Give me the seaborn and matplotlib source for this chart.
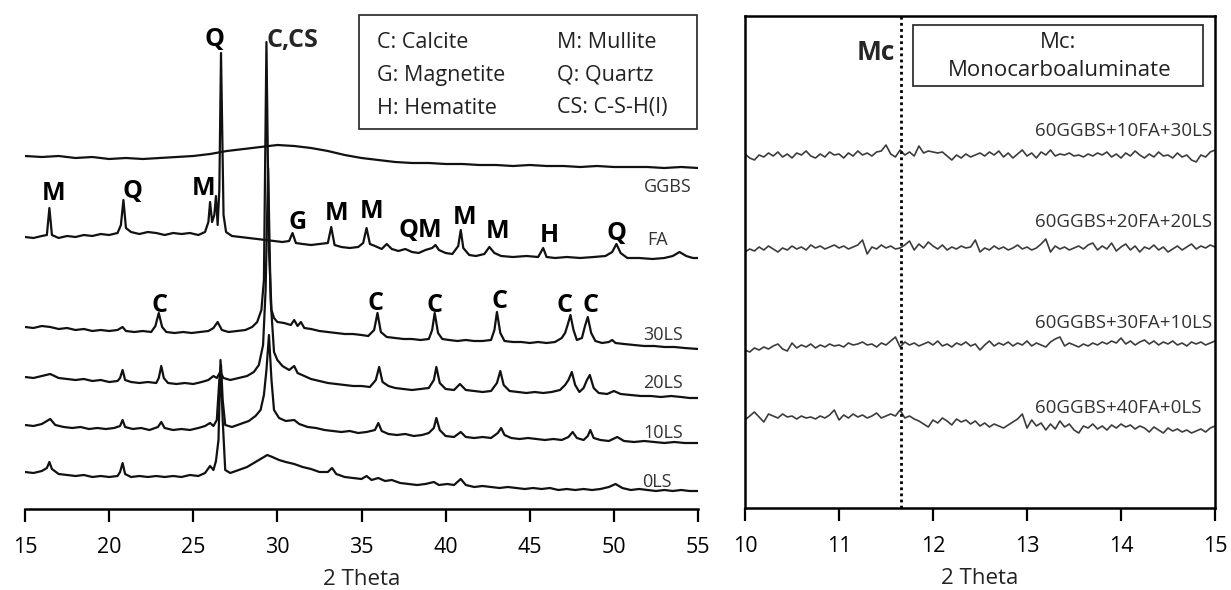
import numpy as np
import pandas as pd
import matplotlib
matplotlib.use("Agg")
import matplotlib.pyplot as plt
from matplotlib.patches import Rectangle
import seaborn as sns

# ---------------- data (intensity, arbitrary units, stacked) ----------------
ggbs_tt = list(range(15, 56))
ggbs_i = [353, 352, 353, 351, 352, 350, 351, 350, 351, 352, 353, 355, 358, 360, 362, 364, 363, 361, 358, 354,
          351, 349, 347, 346, 346, 345, 345, 344, 344, 343, 344, 343, 343, 342, 343, 342, 342, 342, 341, 342, 341]

fa_tt = [15.0, 15.5, 16.0, 16.3, 16.45, 16.6, 17.0, 17.5, 18.0, 18.5,
         19.0, 19.5, 20.0, 20.5, 20.7, 20.85, 21.0, 21.3, 21.8, 22.3,
         22.8, 23.3, 23.8, 24.3, 24.8, 25.3, 25.7, 25.9, 26.0, 26.12,
         26.25, 26.35, 26.45, 26.55, 26.65, 26.8, 26.95, 27.3, 27.8, 28.3,
         28.8, 29.3, 29.8, 30.3, 30.7, 30.9, 31.1, 31.5, 32.0, 32.5,
         33.0, 33.2, 33.4, 33.8, 34.3, 34.8, 35.1, 35.3, 35.5, 35.8,
         36.2, 36.5, 36.8, 37.2, 37.6, 38.0, 38.4, 38.8, 39.2, 39.4,
         39.6, 40.0, 40.4, 40.75, 40.9, 41.05, 41.4, 41.8, 42.3, 42.6,
         42.9, 43.3, 44.0, 44.8, 45.5, 45.8, 46.0, 46.5, 47.2, 48.0,
         48.8, 49.5, 49.9, 50.15, 50.4, 50.8, 51.5, 52.3, 53.0, 53.5,
         53.9, 54.3, 54.7, 55.0]
fa_i = [272, 271, 273, 274, 301, 274, 271, 273, 272, 274,
        273, 275, 274, 276, 284, 309, 281, 277, 275, 277,
        276, 274, 276, 275, 276, 274, 277, 287, 307, 287,
        294, 313, 284, 319, 456, 294, 277, 273, 272, 271,
        270, 269, 268, 267, 268, 276, 266, 265, 264, 265,
        266, 282, 264, 262, 261, 262, 266, 281, 265, 263,
        260, 265, 260, 258, 260, 257, 256, 259, 261, 264,
        259, 256, 255, 263, 279, 261, 254, 253, 255, 262,
        256, 253, 252, 253, 252, 261, 252, 251, 252, 251,
        252, 253, 257, 265, 256, 251, 251, 250, 251, 253,
        257, 253, 251, 251]

ls30_tt = [15.0, 15.5, 16.0, 16.5, 17.0, 17.5, 18.0, 18.5, 19.0, 19.5,
           20.0, 20.5, 20.8, 21.0, 21.5, 22.0, 22.5, 22.75, 22.95, 23.15,
           23.4, 23.9, 24.4, 24.9, 25.4, 25.9, 26.2, 26.45, 26.7, 27.1,
           27.6, 28.1, 28.5, 28.8, 29.05, 29.2, 29.35, 29.5, 29.65, 29.8,
           30.0, 30.4, 30.8, 31.0, 31.2, 31.4, 31.6, 32.0, 32.5, 33.0,
           33.5, 34.0, 34.5, 35.0, 35.4, 35.75, 35.95, 36.15, 36.5, 37.0,
           37.5, 38.0, 38.5, 39.0, 39.2, 39.35, 39.55, 39.8, 40.2, 40.7,
           41.2, 41.7, 42.2, 42.7, 42.9, 43.05, 43.25, 43.5, 44.0, 44.5,
           45.0, 45.5, 46.0, 46.5, 46.9, 47.1, 47.25, 47.42, 47.6, 47.8,
           48.1, 48.3, 48.45, 48.65, 48.9, 49.3, 49.7, 49.9, 50.1, 50.6,
           51.2, 51.8, 52.4, 53.0, 53.6, 54.2, 55.0]
ls30_i = [182, 181, 183, 182, 180, 181, 179, 180, 178, 179,
          178, 179, 182, 178, 177, 178, 177, 183, 196, 182,
          177, 176, 177, 176, 177, 178, 181, 187, 179, 177,
          178, 179, 182, 187, 199, 229, 467, 259, 199, 191,
          187, 186, 184, 189, 183, 187, 181, 180, 178, 177,
          176, 175, 175, 174, 173, 179, 196, 177, 172, 171,
          170, 170, 169, 170, 179, 196, 176, 170, 169, 168,
          169, 168, 168, 169, 179, 197, 176, 168, 167, 167,
          166, 167, 166, 167, 171, 176, 184, 194, 179, 169,
          171, 184, 192, 176, 168, 166, 167, 169, 166, 165,
          164, 163, 163, 162, 162, 161, 160]

ls20_tt = [15.0, 15.5, 16.0, 16.5, 17.0, 17.5, 18.0, 18.5, 19.0, 19.5,
           20.0, 20.5, 20.65, 20.8, 20.95, 21.3, 21.8, 22.3, 22.8, 22.95,
           23.1, 23.25, 23.5, 24.0, 24.5, 25.0, 25.5, 25.9, 26.2, 26.4,
           26.6, 26.8, 27.2, 27.7, 28.2, 28.6, 28.9, 29.15, 29.3, 29.45,
           29.6, 29.8, 30.0, 30.3, 30.7, 31.0, 31.2, 31.6, 32.0, 32.5,
           33.0, 33.5, 34.0, 34.5, 35.0, 35.5, 35.85, 36.05, 36.25, 36.6,
           37.0, 37.5, 38.0, 38.5, 39.0, 39.3, 39.45, 39.65, 40.0, 40.5,
           40.85, 41.2, 41.7, 42.2, 42.7, 43.05, 43.25, 43.45, 43.8, 44.3,
           44.8, 45.3, 45.8, 46.3, 46.8, 47.1, 47.3, 47.5, 47.7, 47.95,
           48.2, 48.4, 48.57, 48.8, 49.1, 49.6, 50.0, 50.4, 51.0, 51.6,
           52.2, 52.8, 53.4, 54.0, 54.5, 55.0]
ls20_i = [132, 131, 133, 135, 131, 130, 129, 130, 128, 129,
          127, 128, 131, 139, 129, 127, 126, 127, 126, 131,
          143, 131, 126, 125, 126, 125, 127, 129, 133, 131,
          137, 131, 129, 131, 133, 137, 144, 164, 219, 341,
          209, 157, 149, 143, 139, 143, 136, 133, 130, 128,
          126, 125, 124, 123, 123, 122, 129, 142, 127, 123,
          121, 120, 119, 120, 121, 129, 142, 126, 120, 119,
          125, 119, 118, 117, 118, 126, 138, 124, 118, 117,
          116, 117, 116, 117, 119, 124, 129, 137, 124, 117,
          121, 129, 134, 121, 116, 115, 118, 115, 114, 113,
          113, 112, 113, 112, 111, 111]

ls10_tt = [15.0, 15.5, 16.0, 16.5, 16.8, 17.3, 17.8, 18.3, 18.8, 19.3,
           19.8, 20.3, 20.65, 20.8, 20.95, 21.4, 21.9, 22.4, 22.9, 23.1,
           23.3, 23.8, 24.3, 24.8, 25.3, 25.7, 26.0, 26.2, 26.4, 26.55,
           26.65, 26.75, 26.9, 27.3, 27.8, 28.3, 28.7, 29.0, 29.2, 29.35,
           29.5, 29.65, 29.8, 30.1, 30.5, 31.0, 31.3, 31.8, 32.3, 32.8,
           33.3, 33.8, 34.3, 34.8, 35.3, 35.8, 36.0, 36.2, 36.6, 37.1,
           37.6, 38.1, 38.6, 39.0, 39.3, 39.45, 39.65, 40.0, 40.5, 40.9,
           41.2, 41.7, 42.2, 42.7, 43.1, 43.3, 43.5, 43.9, 44.4, 44.9,
           45.4, 45.9, 46.4, 46.9, 47.3, 47.55, 47.8, 48.2, 48.45, 48.6,
           48.8, 49.2, 49.7, 50.2, 50.6, 51.2, 51.8, 52.4, 53.0, 53.6,
           54.2, 55.0]
ls10_i = [84, 83, 85, 90, 84, 82, 81, 82, 80, 81,
          80, 81, 83, 89, 82, 80, 81, 79, 82, 87,
          81, 79, 80, 79, 81, 83, 86, 83, 89, 129,
          144, 109, 84, 82, 85, 88, 93, 99, 114, 139,
          174, 129, 99, 91, 88, 89, 85, 82, 81, 79,
          78, 77, 78, 76, 77, 79, 86, 78, 75, 74,
          75, 73, 74, 76, 81, 91, 79, 73, 72, 77,
          72, 71, 72, 71, 76, 81, 74, 71, 70, 71,
          70, 69, 70, 69, 72, 77, 71, 69, 73, 79,
          71, 69, 68, 72, 68, 67, 68, 67, 66, 67,
          66, 66]

ls0_tt = [15.0, 15.5, 16.0, 16.3, 16.45, 16.6, 17.0, 17.5, 18.0, 18.5,
          19.0, 19.5, 20.0, 20.5, 20.65, 20.8, 20.95, 21.3, 21.8, 22.3,
          22.8, 23.3, 23.8, 24.3, 24.8, 25.3, 25.7, 26.0, 26.2, 26.35,
          26.5, 26.62, 26.75, 26.9, 27.2, 27.7, 28.2, 28.7, 29.1, 29.4,
          29.7, 30.1, 30.5, 31.0, 31.5, 32.0, 32.5, 33.0, 33.25, 33.5,
          34.0, 34.5, 35.0, 35.3, 35.6, 36.0, 36.4, 36.8, 37.3, 37.8,
          38.3, 38.8, 39.3, 39.6, 40.1, 40.5, 40.9, 41.2, 41.7, 42.2,
          42.7, 43.2, 43.7, 44.2, 44.7, 45.2, 45.7, 46.2, 46.7, 47.2,
          47.7, 48.2, 48.7, 49.2, 49.7, 50.1, 50.5, 51.0, 51.5, 52.0,
          52.5, 53.0, 53.5, 54.0, 54.5, 55.0]
ls0_i = [37, 36, 38, 41, 47, 40, 35, 34, 33, 34,
         32, 33, 32, 33, 37, 46, 35, 32, 33, 32,
         33, 32, 33, 32, 34, 33, 36, 43, 39, 48,
         69, 149, 89, 39, 36, 39, 42, 47, 51, 54,
         52, 49, 47, 45, 42, 40, 37, 37, 41, 35,
         32, 31, 30, 33, 29, 31, 28, 29, 26, 25,
         24, 25, 27, 24, 25, 24, 30, 24, 22, 23,
         22, 21, 22, 21, 20, 21, 20, 21, 19, 20,
         19, 20, 19, 20, 22, 25, 21, 19, 20, 19,
         18, 19, 18, 19, 18, 18]

left_labels = ["GGBS", "FA", "30LS", "20LS", "10LS", "0LS"]

# right panel: 2 theta 10-15, readings every 0.05 deg
r_ls30 = [354, 350, 348, 353, 351, 355, 352, 356, 351, 354, 350, 355, 353, 357, 352, 350, 354, 351, 356, 353,
          354, 350, 355, 352, 357, 353, 355, 352, 356, 357, 363, 354, 351, 358, 353, 356, 352, 362, 355, 357,
          356, 355, 356, 352, 348, 353, 350, 354, 351, 353, 355, 352, 356, 353, 357, 351, 355, 350, 354, 358,
          352, 355, 350, 356, 353, 358, 352, 354, 353, 355, 352, 353, 351, 354, 352, 355, 353, 356, 351, 354,
          350, 355, 352, 357, 353, 350, 354, 351, 356, 352, 353, 350, 355, 351, 353, 348, 346, 353, 351, 356,
          358]
r_ls20 = [256, 259, 257, 261, 258, 262, 259, 256, 260, 258, 262, 259, 261, 258, 263, 260, 262, 259, 261, 263,
          260, 262, 259, 261, 263, 268, 254, 261, 259, 263, 260, 262, 259, 260, 263, 267, 258, 264, 260, 266,
          262, 259, 263, 258, 261, 259, 262, 260, 261, 268, 256, 260, 258, 262, 259, 261, 258, 260, 263, 259,
          261, 258, 260, 264, 269, 256, 262, 259, 261, 258, 260, 262, 259, 263, 265, 258, 262, 259, 265, 257,
          261, 264, 258, 262, 256, 261, 259, 263, 258, 261, 256, 259, 262, 258, 261, 264, 259, 262, 260, 263,
          261]
r_ls10 = [158, 156, 160, 158, 161, 159, 162, 164, 159, 157, 165, 160, 163, 161, 164, 160, 163, 161, 164, 162,
          163, 161, 165, 163, 164, 166, 163, 164, 161, 165, 163, 167, 171, 161, 166, 163, 165, 162, 164, 166,
          163, 167, 162, 164, 161, 165, 163, 166, 162, 164, 158, 163, 167, 162, 165, 163, 166, 162, 165, 163,
          167, 162, 165, 163, 161, 166, 169, 171, 162, 165, 163, 161, 164, 162, 165, 163, 166, 164, 167, 165,
          170, 164, 167, 163, 166, 168, 164, 167, 163, 166, 164, 167, 163, 165, 162, 166, 164, 166, 163, 165,
          167]
r_ls0 = [88, 92, 96, 91, 86, 94, 92, 90, 94, 91, 92, 89, 92, 90, 91, 89, 92, 90, 93, 98,
         88, 93, 90, 94, 91, 93, 90, 92, 95, 90, 92, 94, 92, 98, 90, 92, 89, 87, 84, 81,
         88, 85, 90, 87, 83, 89, 86, 88, 84, 87, 82, 85, 81, 84, 82, 80, 83, 86, 89, 94,
         80, 88, 82, 85, 78, 84, 79, 87, 81, 84, 78, 75, 82, 80, 84, 79, 82, 78, 83, 80,
         84, 81, 83, 79, 82, 80, 76, 81, 78, 75, 80, 77, 79, 76, 78, 75, 77, 79, 76, 80,
         82]
right_labels = ["60GGBS+10FA+30LS", "60GGBS+20FA+20LS", "60GGBS+30FA+10LS", "60GGBS+40FA+0LS"]
mc_position = 11.66

left_xticks = [15, 20, 25, 30, 35, 40, 45, 50, 55]
right_xticks = [10, 11, 12, 13, 14, 15]

# ---------------- figure ----------------
sns.set_theme(style="white")
plt.rcParams["font.family"] = ["Open Sans", "DejaVu Sans"]

W, H = 1231, 590
fig = plt.figure(figsize=(W / 100, H / 100), dpi=100)


def fx(px):
    return px / W


def fy(py):
    return 1 - py / H


axL = fig.add_axes([fx(25), fy(509), (698 - 25) / W, (509 - 10) / H])
axR = fig.add_axes([fx(745), fy(508), (1215 - 745) / W, (508 - 16) / H])

traces = [(ggbs_tt, ggbs_i), (fa_tt, fa_i), (ls30_tt, ls30_i),
          (ls20_tt, ls20_i), (ls10_tt, ls10_i), (ls0_tt, ls0_i)]
for tt, ii in traces:
    sns.lineplot(x=np.array(tt, dtype=float), y=np.array(ii, dtype=float), ax=axL,
                 color="#111111", lw=1.6, estimator=None, sort=False)

rt = np.linspace(10, 15, len(r_ls30))
for ii in [r_ls30, r_ls20, r_ls10, r_ls0]:
    sns.lineplot(x=rt, y=np.array(ii, dtype=float), ax=axR, color="#3c3c3c",
                 lw=1.2, estimator=None, sort=False)

axR.axvline(mc_position, color="black", lw=2.0, ls=(0, (1, 1.2)))

# axes styling
axL.set_xlim(15, 55)
axL.set_ylim(0, 499)
axR.set_xlim(10, 15)
axR.set_ylim(0, 492)
for ax, ticks in [(axL, left_xticks), (axR, right_xticks)]:
    ax.set_xticks(ticks)
    ax.set_xticklabels([str(t) for t in ticks])
    ax.set_yticks([])
    ax.tick_params(axis="x", direction="out", length=9, width=1.6, labelsize=15.5,
                   pad=11, colors="black", bottom=True)
    ax.set_xlabel("2 Theta", fontsize=16, labelpad=8, color="#222222")
    ax.set_ylabel("")
    ax.set_facecolor("none")
for s in ["top", "left", "right"]:
    axL.spines[s].set_visible(False)
axL.spines["bottom"].set_linewidth(1.8)
axL.spines["bottom"].set_color("black")
for s in axR.spines.values():
    s.set_visible(True)
    s.set_linewidth(1.8)
    s.set_color("black")

# ---------------- annotations ----------------
bold = dict(fontsize=18, fontweight="bold", color="black", ha="center", va="center")
peak_labels = [("Q", 215, 39), ("M", 54, 194), ("Q", 132, 191), ("M", 204, 189),
               ("G", 298, 222), ("M", 337, 213), ("M", 372, 212), ("QM", 420, 231),
               ("M", 465, 217), ("M", 498, 232), ("H", 549, 236), ("Q", 616, 234),
               ("C", 160, 306), ("C", 376, 303), ("C", 435, 306), ("C", 500, 302),
               ("C", 565, 306), ("C", 590, 306)]
for t, px, py in peak_labels:
    fig.text(fx(px), fy(py), t, **bold)
fig.text(fx(267), fy(40), "C,CS", fontsize=18, fontweight="bold", ha="left", va="center")

small = dict(fontsize=13, color="#333333", va="center")
fig.text(fx(692), fy(187), left_labels[0], ha="right", **small)
fig.text(fx(647), fy(240), left_labels[1], ha="left", **small)
fig.text(fx(683), fy(335), left_labels[2], ha="right", **small)
fig.text(fx(683), fy(383), left_labels[3], ha="right", **small)
fig.text(fx(683), fy(433), left_labels[4], ha="right", **small)
fig.text(fx(672), fy(482), left_labels[5], ha="right", **small)

# legend box (left)
fig.patches.append(Rectangle((fx(359), fy(129)), (697 - 359) / W, (129 - 15) / H,
                             transform=fig.transFigure, fill=False, lw=1.3, ec="#333333"))
leg = dict(fontsize=15.5, color="#222222", ha="left", va="center")
fig.text(fx(377), fy(42), "C: Calcite", **leg)
fig.text(fx(377), fy(75), "G: Magnetite", **leg)
fig.text(fx(377), fy(108), "H: Hematite", **leg)
fig.text(fx(557), fy(42), "M: Mullite", **leg)
fig.text(fx(557), fy(75), "Q: Quartz", **leg)
fig.text(fx(557), fy(108), "CS: C-S-H(I)", **leg)

# right panel box and labels
fig.patches.append(Rectangle((fx(913), fy(86)), (1203 - 913) / W, (86 - 25) / H,
                             transform=fig.transFigure, fill=False, lw=1.3, ec="#333333"))
fig.text(fx(1058), fy(43), "Mc:", fontsize=16, color="#222222", ha="center", va="center")
fig.text(fx(1060), fy(71), "Monocarboaluminate", fontsize=16, color="#222222", ha="center", va="center")
fig.text(fx(895), fy(53), "Mc", fontsize=19, fontweight="bold", ha="right", va="center")

rsmall = dict(fontsize=13.5, color="#333333", va="center")
fig.text(fx(1212), fy(131), right_labels[0], ha="right", **rsmall)
fig.text(fx(1212), fy(222), right_labels[1], ha="right", **rsmall)
fig.text(fx(1212), fy(323), right_labels[2], ha="right", **rsmall)
fig.text(fx(1202), fy(408), right_labels[3], ha="right", **rsmall)

fig.savefig("out.png", dpi=100, facecolor="white")
